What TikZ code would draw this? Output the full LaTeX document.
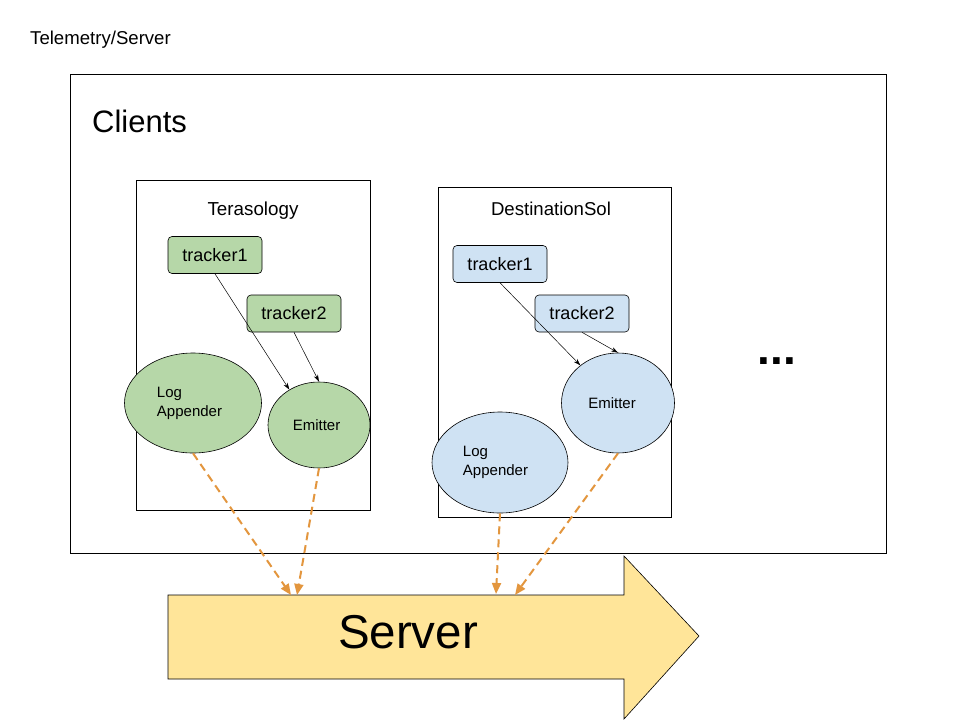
\documentclass[tikz,border=0pt]{standalone}
\usepackage{fontspec}
\setmainfont{Liberation Sans}
\usepackage{tikz}
\usetikzlibrary{arrows,arrows.meta,shapes.geometric,positioning}
\definecolor{leaf}{HTML}{B6D7A8}
\definecolor{sky}{HTML}{CFE2F3}
\definecolor{sand}{HTML}{FFE599}
\definecolor{rust}{HTML}{E3963E}
\newcommand{\fsz}[1]{\fontsize{#1}{#1}\selectfont}
\tikzstyle{frame} = [draw=black, line width=0.8pt]
\tikzstyle{trk}   = [rectangle, rounded corners=4pt, draw=black, line width=0.6pt, minimum width=94pt, minimum height=37pt, inner sep=0pt, font=\fsz{18}]
\tikzstyle{blob}  = [ellipse, draw=black, line width=0.6pt, inner sep=0pt, align=left, font=\fontsize{15}{19}\selectfont]
\tikzstyle{call}  = [black, line width=0.5pt, -{Stealth[length=7pt,width=4.5pt]}]
\tikzstyle{feed}  = [rust, line width=2pt, dash pattern=on 8pt off 5pt, -{Triangle[length=11pt,width=9pt]}]

\begin{document}
\begin{tikzpicture}[x=1pt, y=-1pt]
		\useasboundingbox[fill=white] (0,0) rectangle (960,720);
		\node[anchor=base west, font=\fsz{18.6}, inner sep=0pt] (title) at (30,44) {Telemetry/Server};
		\draw[frame] (70,74) rectangle (886,553);
		\node[anchor=base west, font=\fsz{31}, inner sep=0pt] (clients) at (92,132) {Clients};
		\node[anchor=base, font=\bfseries\fsz{46}] (more) at (777,364) {...};

		% Terasology
		\draw[frame] (136,180) rectangle (370,510);
		\node[anchor=base, font=\fsz{18.8}] (tname) at (253,215) {Terasology};
		\node[trk, fill=leaf] (tt1) at (215,255) {tracker1};
		\node[trk, fill=leaf] (tt2) at (294,313.5) {tracker2};
		\node[blob, fill=leaf, minimum width=137pt, minimum height=100pt] (tla) at (193,403) {Log\\Appender\hspace*{7pt}};
		\node[blob, fill=leaf, minimum width=102pt, minimum height=86pt] (tem) at (319,425) {Emitter\hspace*{5pt}};
		\draw[call] (tt1.south) -- (tem.130);
		\draw[call] (tt2.south) -- (tem.north);

		% DestinationSol
		\draw[frame] (438,187) rectangle (671,517);
		\node[anchor=base, font=\fsz{18.6}] (dname) at (551,215) {DestinationSol};
		\node[trk, fill=sky] (dt1) at (500,264) {tracker1};
		\node[trk, fill=sky] (dt2) at (582,313.5) {tracker2};
		\node[blob, fill=sky, minimum width=136pt, minimum height=101pt] (dla) at (500,462.5) {Log\\Appender\hspace*{9pt}};
		\node[blob, fill=sky, minimum width=113pt, minimum height=100pt] (dem) at (618,403) {Emitter\hspace*{12pt}};
		\draw[call] (dt1.south) -- (dem.135);
		\draw[call] (dt2.south) -- (dem.north);

		% Server
		\draw[frame, fill=sand, line width=0.6pt] (168,595) -- (624,595) -- (624,556) -- (699,636)
			-- (624,719) -- (624,679) -- (168,679) -- cycle;
		\node[font=\fsz{47.5}] (server) at (408,632) {Server};
		\coordinate (s1) at (291,595);
		\coordinate (s2) at (297,595);
		\coordinate (s3) at (496,594);
		\coordinate (s4) at (515,595);
		\draw[feed] (tla.south) -- (s1);
		\draw[feed] (tem.south) -- (s2);
		\draw[feed] (dla.south) -- (s3);
		\draw[feed] (dem.south) -- (s4);
	\end{tikzpicture}
\end{document}
